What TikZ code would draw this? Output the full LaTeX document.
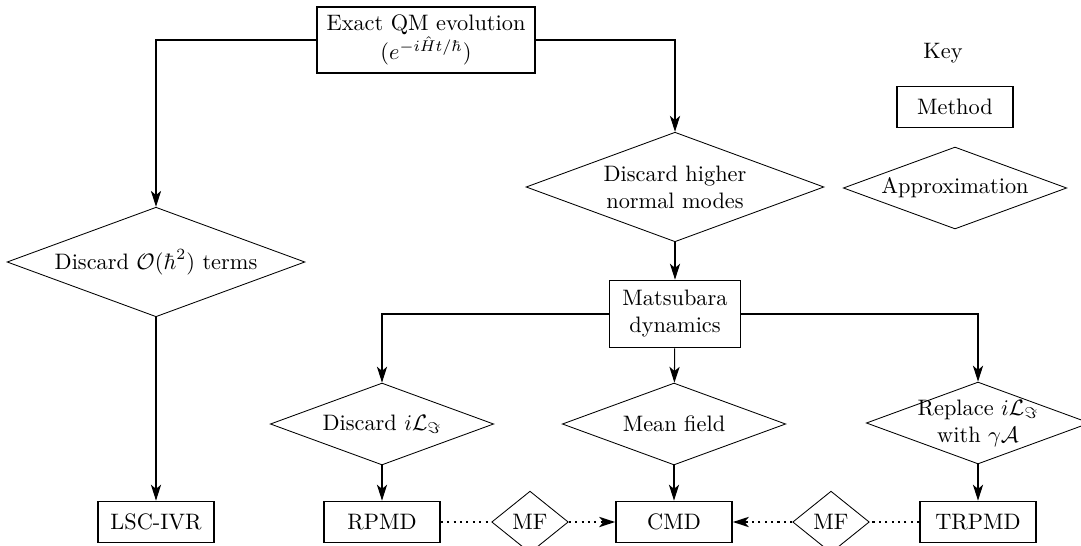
\RequirePackage{fix-cm}
\documentclass[tikz,border=0pt]{standalone}
\usetikzlibrary{shapes.geometric, arrows.meta}

\begin{document}
\begin{tikzpicture}[
    x=0.47pt, y=-0.47pt,
    font=\fontsize{10.5pt}{12.7pt}\selectfont,
    method/.style={draw, line width=0.8pt, align=center, inner sep=0pt,
                   minimum width=54.5pt, minimum height=19.3pt},
    approx/.style={diamond, draw, line width=0.4pt, aspect=2.7, align=center,
                   inner sep=0pt, minimum width=105pt, minimum height=38.5pt},
    flow/.style={-{Stealth[length=7.5pt, width=4.8pt, inset=2pt]}, line width=0.5pt},
    mf/.style={dotted, line width=1pt},
    mfflow/.style={mf, -{Stealth[length=7.5pt, width=4.8pt, inset=2pt]}},
  ]
  \useasboundingbox (0,0) rectangle (1081,546);
  \node[method, minimum width=102.5pt, minimum height=31pt] (exact) at (426,40) {Exact QM evolution\\$(e^{-i\hat{H}t/\hbar})$};
  \node[approx, minimum width=140pt, minimum height=51.5pt] (hbar) at (156,262) {Discard $\mathcal{O}(\hbar^2)$ terms};
  \draw[flow] (exact.west) -| (hbar.north);
  \node[approx, minimum width=140pt, minimum height=51.5pt] (modes) at (675,187) {Discard higher\\normal modes};
  \draw[flow] (exact.east) -| (modes.north);
  \node (key) at (943,53) {Key};
  \node[method] (keymethod) at (955,107) {Method};
  \node[approx] (keyapprox) at (955,188) {Approximation};
  \node[method, minimum width=61.6pt, minimum height=31.5pt] (mats) at (675,314) {Matsubara\\dynamics};
  \draw[flow] (modes) -- (mats);
  \node[approx] (discard) at (382,424) {Discard $i\mathcal{L}_\Im$};
  \node[approx] (mean) at (674,424) {Mean field};
  \node[approx, inner sep=-2.5pt] (replace) at (978,423) {Replace $i\mathcal{L}_\Im$\\with $\gamma\mathcal{A}$};
  \draw[flow] (mats.west) -| (discard.north);
  \draw[flow] (mats) -- (mean);
  \draw[flow] (mats.east) -| (replace.north);
  \node[method] (lsc) at (156,522) {LSC-IVR};
  \node[method] (rpmd) at (382,522) {RPMD};
  \node[method] (cmd) at (674,522) {CMD};
  \node[method] (trpmd) at (978,522) {TRPMD};
  \draw[flow] (hbar) -- (lsc);
  \draw[flow] (discard) -- (rpmd);
  \draw[flow] (mean) -- (cmd);
  \draw[flow] (replace) -- (trpmd);
  \node[approx, minimum width=36pt, minimum height=29pt] (mfleft) at (530,522) {MF};
  \node[approx, minimum width=36pt, minimum height=29pt] (mfright) at (831,522) {MF};
  \draw[mf] (rpmd) -- (mfleft);
  \draw[mfflow] (mfleft) -- (cmd);
  \draw[mf] (trpmd) -- (mfright);
  \draw[mfflow] (mfright) -- (cmd);
\end{tikzpicture}
\end{document}
